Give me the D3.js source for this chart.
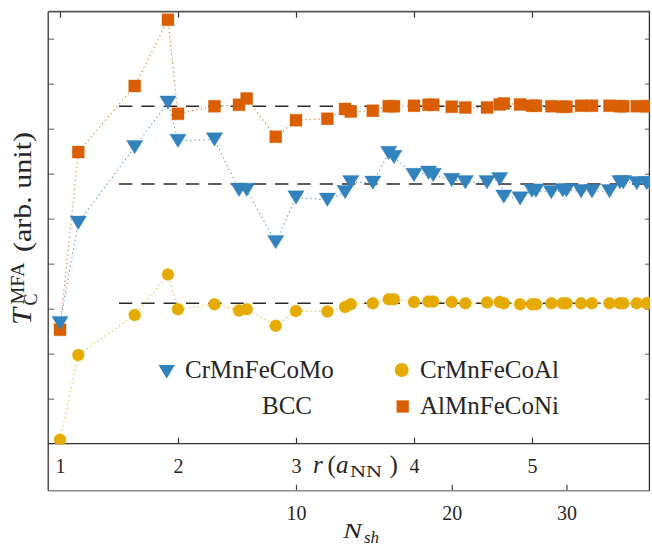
<!DOCTYPE html>
<html>
<head>
<meta charset="utf-8">
<script src="https://cdn.jsdelivr.net/npm/d3@7/dist/d3.min.js"></script>
<style>
body { margin: 0; background: #fff; }
text { font-family: "Liberation Serif", "Times New Roman", serif; fill: #262626; }
</style>
</head>
<body>
<div id="plot"></div>
<script>
// shell radii of the bcc lattice, r in units of a_NN, shells 1..38
var shellR = [1, 1.155, 1.633, 1.915, 2, 2.309, 2.517, 2.582, 2.828, 3,
              3.266, 3.416, 3.464, 3.651, 3.786, 3.830, 4, 4.123, 4.163, 4.320,
              4.435, 4.619, 4.726, 4.761, 4.899, 5, 5.033, 5.164, 5.260, 5.292,
              5.416, 5.508, 5.657, 5.745, 5.774, 5.888, 5.972, 6.0];
var rTicks = [1, 2, 3, 4, 5];
var nshTicks = [10, 20, 30];
var yTicks = [1, 2, 3, 4, 5, 6, 7, 8, 9];

// T_C^MFA per number of shells (arb. unit)
var tcMo = [2.68, 4.91, 6.59, 7.58, 6.73, 6.76, 5.64, 5.64, 4.48, 5.47,
            5.42, 5.59, 5.81, 5.80, 6.46, 6.37, 5.97, 6.02, 5.97, 5.86,
            5.81, 5.81, 5.88, 5.49, 5.45, 5.62, 5.62, 5.59, 5.63, 5.63,
            5.61, 5.61, 5.61, 5.81, 5.81, 5.79, 5.79, 5.79];
var tcAl = [0.09, 1.97, 2.86, 3.76, 2.99, 3.10, 2.96, 2.99, 2.62, 2.95,
            2.94, 3.04, 3.10, 3.12, 3.21, 3.21, 3.15, 3.16, 3.16, 3.15,
            3.12, 3.14, 3.15, 3.12, 3.10, 3.10, 3.10, 3.12, 3.12, 3.12,
            3.12, 3.12, 3.12, 3.12, 3.12, 3.12, 3.12, 3.12];
var tcNi = [2.53, 6.48, 7.95, 9.42, 7.33, 7.50, 7.53, 7.67, 6.82, 7.19,
            7.22, 7.44, 7.38, 7.40, 7.50, 7.50, 7.51, 7.53, 7.53, 7.49,
            7.47, 7.47, 7.54, 7.56, 7.54, 7.51, 7.51, 7.50, 7.49, 7.49,
            7.51, 7.51, 7.51, 7.50, 7.50, 7.50, 7.50, 7.50];

// converged values (dashed), drawn from r = avgStart
var avgMo = 5.77, avgAl = 3.12, avgNi = 7.50;
var avgStart = 1.5;

var names = ["CrMnFeCoMo", "CrMnFeCoAl", "AlMnFeCoNi"];
var colors = ["#3182bd", "#e6ab02", "#d95f02"];

var width = 652, height = 550;
// plot box: left/right edge, top, bottom of T panel, bottom of N_sh strip
var bxL = 48.2, bxR = 650, bxT = 11.7, bxB = 443.7, bxB2 = 490.7;

var svg = d3.select("#plot").append("svg")
    .attr("width", width)
    .attr("height", height);

var x = d3.scaleLinear().domain([0.9, 6.0]).range([bxL, bxR]);
var y = d3.scaleLinear().domain([0, 9.6]).range([bxB, bxT]);

svg.append("clipPath").attr("id", "clip")
  .append("rect")
    .attr("x", bxL).attr("y", bxT)
    .attr("width", bxR - bxL).attr("height", bxB - bxT + 1);

function styleTicks(g, col, w) {
  g.select(".domain").remove();
  g.selectAll("line").attr("stroke", col).attr("stroke-width", w);
  g.selectAll("text").attr("font-family", null).attr("fill", "#262626").style("font-size", "20px");
}

// tick axes
svg.append("g")
    .attr("transform", "translate(0," + bxT + ")")
    .call(d3.axisBottom(x).tickValues(rTicks).tickSize(6).tickFormat(""))
    .call(styleTicks, "#333", 1.2);

svg.append("g")
    .attr("transform", "translate(0," + bxB + ")")
    .call(d3.axisBottom(x).tickValues(rTicks).tickSize(-6).tickPadding(15).tickFormat(d3.format("d")))
    .call(styleTicks, "#333", 1.2);

svg.append("g")
    .attr("transform", "translate(0," + bxB2 + ")")
    .call(d3.axisBottom(x).tickValues(nshTicks.map(function(n) { return shellR[n - 1]; }))
      .tickSize(-6).tickPadding(15)
      .tickFormat(function(d, i) { return nshTicks[i]; }))
    .call(styleTicks, "#444", 1.2);

svg.append("g")
    .attr("transform", "translate(" + bxL + ",0)")
    .call(d3.axisRight(y).tickValues(yTicks).tickSize(6).tickFormat(""))
    .call(styleTicks, "#888", 1.4);

svg.append("g")
    .attr("transform", "translate(" + bxR + ",0)")
    .call(d3.axisLeft(y).tickValues(yTicks).tickSize(5).tickFormat(""))
    .call(styleTicks, "#888", 1.4);

// frame
svg.append("line").attr("x1", bxL).attr("x2", bxR).attr("y1", bxT).attr("y2", bxT)
    .attr("stroke", "#555").attr("stroke-width", 1.7);
svg.append("line").attr("x1", bxL).attr("x2", bxR).attr("y1", bxB).attr("y2", bxB)
    .attr("stroke", "#333").attr("stroke-width", 1.3);
svg.append("line").attr("x1", bxL).attr("x2", bxR).attr("y1", bxB2).attr("y2", bxB2)
    .attr("stroke", "#8a8a8a").attr("stroke-width", 1.6);
svg.append("line").attr("x1", bxL).attr("x2", bxL).attr("y1", bxT).attr("y2", bxB2)
    .attr("stroke", "#333").attr("stroke-width", 1.3);
svg.append("line").attr("x1", bxR - 0.6).attr("x2", bxR - 0.6).attr("y1", bxT).attr("y2", bxB2)
    .attr("stroke", "#333").attr("stroke-width", 1.3);

var plot = svg.append("g").attr("clip-path", "url(#clip)");

// dashed converged levels
[avgNi, avgMo, avgAl].forEach(function(v) {
  plot.append("line")
      .attr("x1", x(avgStart)).attr("x2", x(6.0))
      .attr("y1", y(v)).attr("y2", y(v))
      .attr("stroke", "#2a2a2a").attr("stroke-width", 1.4)
      .attr("stroke-dasharray", "13.3,9");
});

var series = [tcMo, tcAl, tcNi].map(function(vals, i) {
  return { name: names[i], color: colors[i],
           pts: vals.map(function(v, k) { return { r: shellR[k], v: v }; }) };
});

var line = d3.line().x(function(d) { return x(d.r); }).y(function(d) { return y(d.v); });

series.forEach(function(s) {
  plot.append("path")
      .attr("d", line(s.pts))
      .attr("fill", "none")
      .attr("stroke", s.color)
      .attr("stroke-opacity", 0.8)
      .attr("stroke-width", 1.2)
      .attr("stroke-dasharray", "1.2,3.2");
});

var triDown = "M-8.2,-6.7L8.2,-6.7L0,6.7Z";
var square = d3.symbol().type(d3.symbolSquare).size(144)();

function marker(g, i) {
  if (i === 0) return g.append("path").attr("d", triDown);
  if (i === 1) return g.append("circle").attr("r", 6);
  return g.append("path").attr("d", square);
}

// Ni first, Al, then Mo on top
[2, 1, 0].forEach(function(i) {
  var s = series[i];
  s.pts.forEach(function(p) {
    var g = plot.append("g").attr("transform", "translate(" + x(p.r) + "," + y(p.v) + ")");
    marker(g, i).attr("fill", s.color)
        .attr("stroke", s.color).attr("stroke-opacity", 0.35).attr("stroke-width", 1);
  });
});

// legend
var legend = svg.append("g");
var legPos = [[166.7, 371.7, 185, 378], [401.7, 370, 420, 378], [402.7, 406.5, 420, 414]];
series.forEach(function(s, i) {
  var p = legPos[i];
  var g = legend.append("g").attr("transform", "translate(" + p[0] + "," + p[1] + ")");
  if (i === 1) g.append("circle").attr("r", 7).attr("fill", s.color);
  else if (i === 0) g.append("path").attr("d", triDown).attr("fill", s.color);
  else g.append("path").attr("d", d3.symbol().type(d3.symbolSquare).size(150)()).attr("fill", s.color);
  legend.append("text").attr("x", p[2]).attr("y", p[3])
      .style("font-size", "25px").text(s.name);
});
legend.append("text").attr("x", 287).attr("y", 414).attr("text-anchor", "middle")
    .style("font-size", "25px").text("BCC");

// x label r (a_NN)
var xl = svg.append("g").style("font-size", "25px");
xl.append("text").attr("x", 313).attr("y", 473).style("font-style", "italic").text("r");
xl.append("text").attr("x", 327.5).attr("y", 473).text("(");
xl.append("text").attr("x", 336).attr("y", 473).style("font-style", "italic").text("a");
xl.append("text").attr("x", 350).attr("y", 477).style("font-size", "17px")
    .attr("textLength", 32).attr("lengthAdjust", "spacingAndGlyphs").text("NN");
xl.append("text").attr("x", 389.5).attr("y", 473).text(")");

// N_sh label
svg.append("text").attr("x", 343).attr("y", 538).style("font-size", "22px")
    .style("font-style", "italic").attr("textLength", 19).attr("lengthAdjust", "spacingAndGlyphs").text("N");
svg.append("text").attr("x", 364).attr("y", 543).style("font-size", "17px")
    .style("font-style", "italic").text("sh");

// y label T_C^MFA (arb. unit)
var yl = svg.append("g").attr("transform", "translate(31,325) rotate(-90)");
yl.append("text").attr("x", 0).attr("y", 0).style("font-size", "27px").style("font-style", "italic")
    .attr("textLength", 17).attr("lengthAdjust", "spacingAndGlyphs").text("T");
yl.append("text").attr("x", 19.5).attr("y", 6).style("font-size", "18px").text("C");
yl.append("text").attr("x", 20.5).attr("y", -7).style("font-size", "18px")
    .attr("textLength", 42).attr("lengthAdjust", "spacingAndGlyphs").text("MFA");
yl.append("text").attr("x", 73).attr("y", 0).style("font-size", "26px")
    .attr("textLength", 120).attr("lengthAdjust", "spacingAndGlyphs").text("(arb. unit)");
</script>
</body>
</html>
